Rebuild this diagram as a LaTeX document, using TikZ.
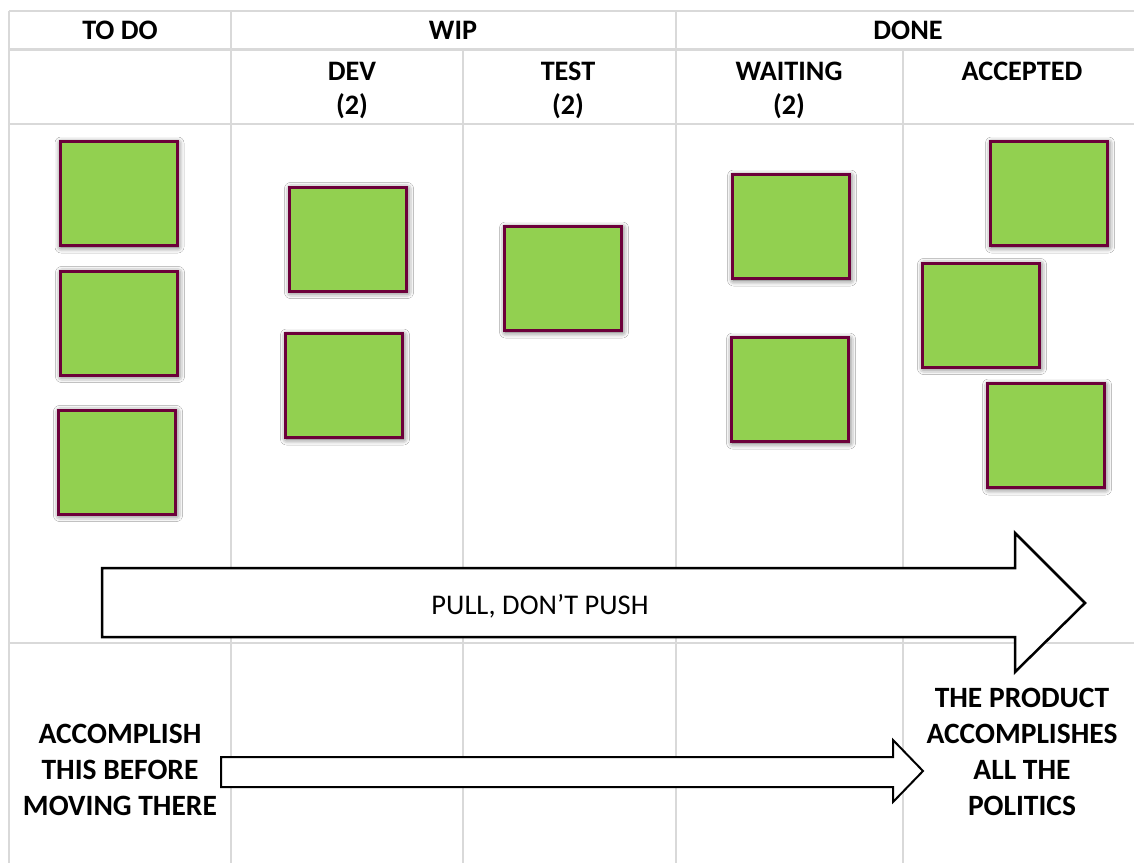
\documentclass[tikz,border=0pt]{standalone}
\usepackage{fontspec}
\setmainfont{Carlito}
\usetikzlibrary{shadows.blur}
\definecolor{gridgray}{RGB}{217,217,217}
\definecolor{cardgreen}{RGB}{146,208,80}
\definecolor{cardedge}{RGB}{108,0,58}
\begin{document}
\begin{tikzpicture}[x=1pt,y=-1pt,
  gridline/.style={draw=gridgray,line width=2pt},
  card/.style={draw=cardedge,fill=cardgreen,line width=3pt,minimum width=117pt,minimum height=104pt,inner sep=0pt,
    blur shadow={shadow xshift=1pt,shadow yshift=-1.5pt,shadow blur radius=6pt,shadow opacity=70}},
  head/.style={font=\fontsize{28.2}{34}\selectfont\bfseries,align=center,inner sep=0pt},
  note/.style={font=\fontsize{29.5}{36}\selectfont\bfseries,align=center,inner sep=0pt},
  flow/.style={draw=black,fill=white,line width=2.5pt,line join=miter}]
\useasboundingbox (0,0) rectangle (1134,863);
\fill[white] (0,0) rectangle (1134,863);

% table grid
\draw[gridline] (9,11) -- (1134,11);
\draw[gridline,line width=3pt] (9,49) -- (1134,49);
\draw[gridline] (9,124) -- (1134,124);
\draw[gridline] (9,643) -- (1134,643);
\draw[gridline] (9,11) -- (9,863);
\draw[gridline] (231,11) -- (231,863);
\draw[gridline] (676,11) -- (676,863);
\draw[gridline] (463,49) -- (463,863);
\draw[gridline] (903,49) -- (903,863);

% headers
\node[head] (todo) at (120,30) {TO DO};
\node[head] (wip) at (453,30) {WIP};
\node[head] (done) at (908,30) {DONE};
\node[head] (dev) at (352,90.5) {DEV\\(2)};
\node[head] (test) at (568,90.5) {TEST\\(2)};
\node[head] (wait) at (789,90.5) {WAITING\\(2)};
\node[head] (acc) at (1022,71) {ACCEPTED};

% cards
\node[card] (t1) at (118.5,193.5) {};
\node[card] (t2) at (119,323) {};
\node[card] (t3) at (117,462) {};
\node[card] (d1) at (348,239) {};
\node[card] (d2) at (344,385.5) {};
\node[card] (s1) at (563,278.5) {};
\node[card] (w1) at (791,226.5) {};
\node[card] (w2) at (790,389.5) {};
\node[card] (a1) at (1049,193.5) {};
\node[card] (a2) at (981,315) {};
\node[card] (a3) at (1046,435.5) {};

% big flow arrow
\coordinate (bigtail) at (102,602);
\coordinate (bigtip) at (1085,603);
\draw[flow] (bigtail |- 0,568) -- (1015,568) -- (1015,533) -- (bigtip) -- (1015,672) -- (1015,637) -- (bigtail |- 0,637) -- cycle;
\node[font=\fontsize{28.5}{34}\selectfont,inner sep=0pt] (pull) at (540,606) {PULL, DON’T PUSH};

% small flow arrow
\coordinate (smalltail) at (221,772);
\coordinate (smalltip) at (923,771);
\draw[flow,line width=2pt] (smalltail |- 0,757) -- (893,757) -- (893,740) -- (smalltip) -- (893,802) -- (893,787) -- (smalltail |- 0,787) -- cycle;

% notes
\node[note] (before) at (120,770) {ACCOMPLISH\\THIS BEFORE\\MOVING THERE};
\node[note] (product) at (1022,752) {THE PRODUCT\\ACCOMPLISHES\\ALL THE\\POLITICS};
\end{tikzpicture}
\end{document}
